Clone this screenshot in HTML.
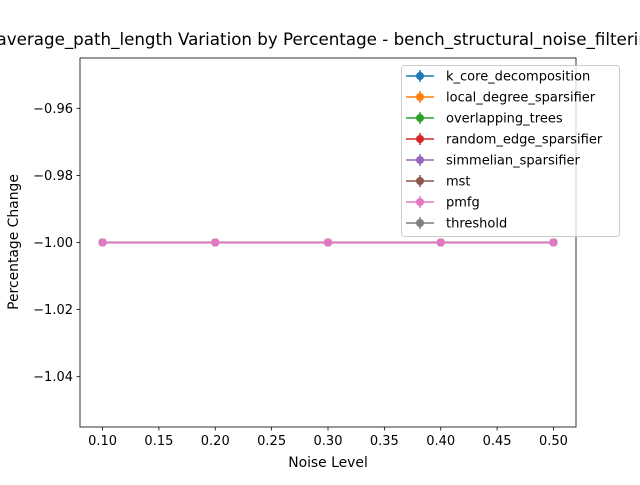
<!DOCTYPE html>
<html><head><meta charset="utf-8"><style>
body{margin:0;background:#fff;width:640px;height:480px;overflow:hidden;font-family:"Liberation Sans","DejaVu Sans",sans-serif}
</style></head><body>
<svg id="chart" width="640" height="480" xmlns="http://www.w3.org/2000/svg" font-family="'DejaVu Sans','Liberation Sans',sans-serif">
<rect width="640" height="480" fill="#fff"/>
<text x="328" y="45" text-anchor="middle" font-size="16.7">average_path_length Variation by Percentage - bench_structural_noise_filtering</text>
<g id="xticks"></g><g id="yticks"></g>
<g id="series"></g>
<rect x="80" y="58" width="496" height="369" fill="none" stroke="#000" stroke-width="0.8"/>
<text x="328" y="467" text-anchor="middle" font-size="13.9">Noise Level</text>
<text x="18" y="242" text-anchor="middle" font-size="13.9" transform="rotate(-90 18 242)">Percentage Change</text>
<g id="legend"></g>
</svg>
<script>
const categories=[0.1,0.2,0.3,0.4,0.5];
const seriesNames=["k_core_decomposition","local_degree_sparsifier","overlapping_trees","random_edge_sparsifier","simmelian_sparsifier","mst","threshold","pmfg"];
const seriesColors=["#1f77b4","#ff7f0e","#2ca02c","#d62728","#9467bd","#8c564b","#7f7f7f","#e377c2"];
const seriesValues=[[-1,-1,-1,-1,-1],[-1,-1,-1,-1,-1],[-1,-1,-1,-1,-1],[-1,-1,-1,-1,-1],[-1,-1,-1,-1,-1],[-1,-1,-1,-1,-1],[-1,-1,-1,-1,-1],[-1,-1,-1,-1,-1]];
const legendOrder=["k_core_decomposition","local_degree_sparsifier","overlapping_trees","random_edge_sparsifier","simmelian_sparsifier","mst","pmfg","threshold"];
const xTicks=[0.1,0.15,0.2,0.25,0.3,0.35,0.4,0.45,0.5];
const yTicks=[-0.96,-0.98,-1.00,-1.02,-1.04];
const NS="http://www.w3.org/2000/svg";
const X=v=>80+(v-0.08)/(0.44)*496;
const Y=v=>58+(-0.945-v)/(0.11)*369;
function mk(t,a,p){const e=document.createElementNS(NS,t);for(const k in a)e.setAttribute(k,a[k]);p.appendChild(e);return e;}
const xt=document.getElementById('xticks');
xTicks.forEach(v=>{const g=mk('g',{},xt);


mk('line',{x1:X(v),x2:X(v),y1:427,y2:430.5,stroke:'#000','stroke-width':0.8},g);
const t=mk('text',{x:X(v),y:445,'text-anchor':'middle','font-size':13},g);t.textContent=v.toFixed(2);});
const yt=document.getElementById('yticks');
yTicks.forEach(v=>{const g=mk('g',{},yt);


mk('line',{x1:76.5,x2:80,y1:Y(v),y2:Y(v),stroke:'#000','stroke-width':0.8},g);
const t=mk('text',{x:73,y:Y(v)+4.5,'text-anchor':'end','font-size':13},g);t.textContent=v.toFixed(2).replace('-','\u2212');});
const sg=document.getElementById('series');
seriesValues.forEach((vals,i)=>{const g=mk('g',{},sg);


mk('polyline',{points:vals.map((v,j)=>X(categories[j])+','+Y(v)).join(' '),fill:'none',stroke:seriesColors[i],'stroke-width':1.5},g);
vals.forEach((v,j)=>{const c=mk('circle',{cx:X(categories[j]),cy:Y(v),r:4,fill:seriesColors[i]},g);

});});
const lg=document.getElementById('legend');
const lb=mk('rect',{x:401.5,y:65.5,width:218,height:171,rx:3,fill:'#fff','fill-opacity':0.8,stroke:'#ccc'},lg);


legendOrder.forEach((n,i)=>{const ci=seriesNames.indexOf(n);const y=76+i*21;const g=mk('g',{},lg);


mk('line',{x1:406,x2:434,y1:y,y2:y,stroke:seriesColors[ci],'stroke-width':1.5},g);
mk('line',{x1:420,x2:420,y1:y-6,y2:y+6,stroke:seriesColors[ci],'stroke-width':1.5},g);
mk('circle',{cx:420,cy:y,r:4,fill:seriesColors[ci]},g);
const t=mk('text',{x:446,y:y+4.5,'font-size':13},g);t.textContent=n;});
</script>
</body></html>
